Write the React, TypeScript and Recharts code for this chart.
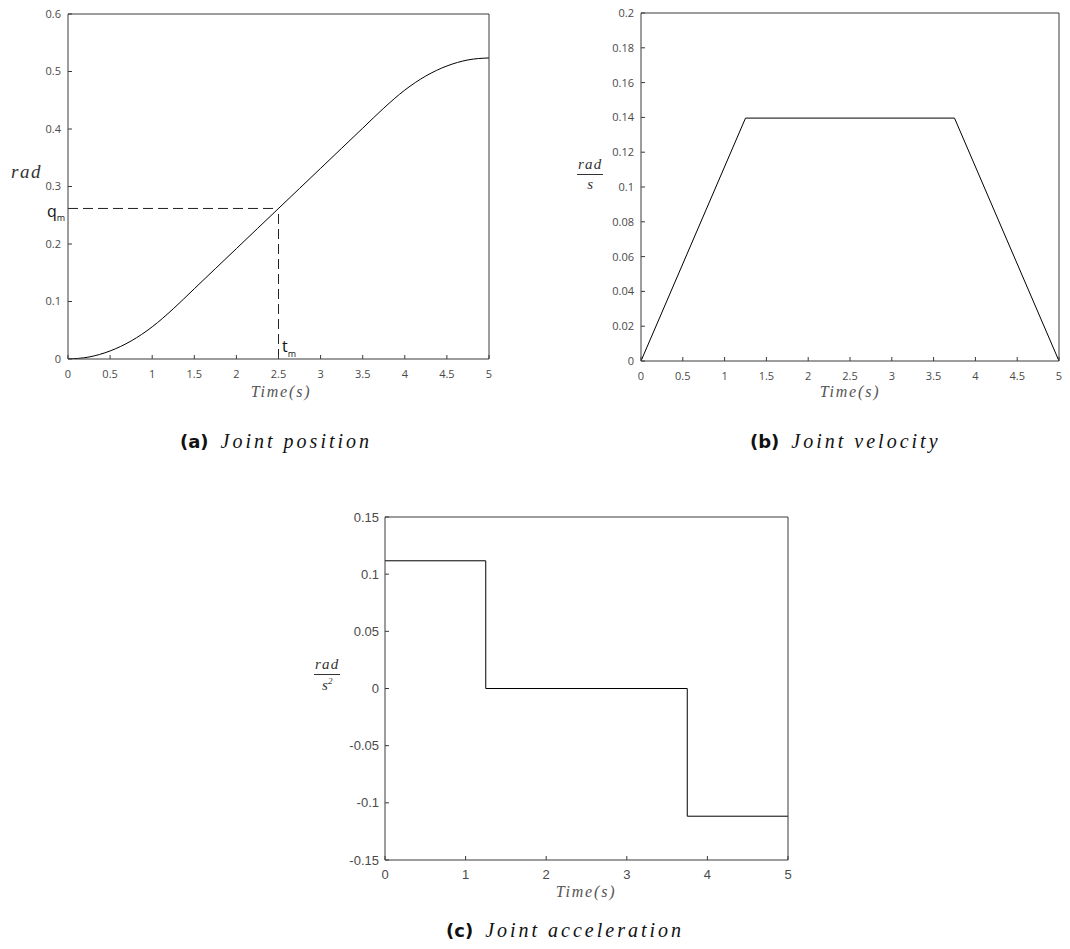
import React from 'react';
import { LineChart, Line, XAxis, YAxis, ReferenceLine } from 'recharts';

// ---- data ----
const posTime = [0, 0.25, 0.5, 0.75, 1, 1.25, 1.5, 1.75, 2, 2.25, 2.5, 2.75, 3, 3.25, 3.5, 3.75, 4, 4.25, 4.5, 4.75, 5];
const posRad = [0, 0.0035, 0.014, 0.0314, 0.0559, 0.0873, 0.1222, 0.1571, 0.192, 0.2269, 0.2618, 0.2967, 0.3316, 0.3665, 0.4014, 0.4363, 0.4677, 0.4922, 0.5096, 0.5201, 0.5236];
const velTime = [0, 1.25, 3.75, 5];
const velRadS = [0, 0.1396, 0.1396, 0];
const accTime = [0, 1.25, 1.25, 3.75, 3.75, 5];
const accRadS2 = [0.1117, 0.1117, 0, 0, -0.1117, -0.1117];
const tm = 2.5;
const qm = 0.2618;

const xTicksHalf = [0, 0.5, 1, 1.5, 2, 2.5, 3, 3.5, 4, 4.5, 5];
const xTicksUnit = [0, 1, 2, 3, 4, 5];
const posTicks = [0, 0.1, 0.2, 0.3, 0.4, 0.5, 0.6];
const velTicks = [0, 0.02, 0.04, 0.06, 0.08, 0.1, 0.12, 0.14, 0.16, 0.18, 0.2];
const accTicks = [-0.15, -0.1, -0.05, 0, 0.05, 0.1, 0.15];

const posData = posTime.map((t, i) => ({ t, v: posRad[i] }));
const velData = velTime.map((t, i) => ({ t, v: velRadS[i] }));
const accData = accTime.map((t, i) => ({ t, v: accRadS2[i] }));

const AXIS = '#3a3a3a';
const TICKTXT = '#4a4a4a';
const SERIF = '"Liberation Serif", "DejaVu Serif", serif';

type PanelProps = {
  data: { t: number; v: number }[];
  width: number;
  height: number;
  margin: { top: number; right: number; bottom: number; left: number };
  xTicks: number[];
  yTicks: number[];
  yDomain: [number, number];
  font: string;
  fontSize: number;
  xMargin: number;
  yMargin: number;
  curve: 'monotone' | 'linear';
  children?: React.ReactNode;
};

function Panel(p: PanelProps) {
  const tickStyle = { fill: TICKTXT, fontFamily: p.font, fontSize: p.fontSize };
  return (
    <LineChart width={p.width} height={p.height} data={p.data} margin={p.margin}>
      <XAxis
        dataKey="t"
        type="number"
        domain={[0, 5]}
        ticks={p.xTicks}
        interval={0}
        stroke={AXIS}
        tickSize={-4}
        tickMargin={p.xMargin}
        tick={tickStyle}
        height={30}
        allowDataOverflow
      />
      <XAxis
        xAxisId="top"
        orientation="top"
        mirror
        dataKey="t"
        type="number"
        domain={[0, 5]}
        ticks={p.xTicks}
        interval={0}
        stroke={AXIS}
        tickSize={4}
        tick={false}
        allowDataOverflow
      />
      <YAxis
        type="number"
        domain={p.yDomain}
        ticks={p.yTicks}
        interval={0}
        stroke={AXIS}
        tickSize={-4}
        tickMargin={p.yMargin}
        tick={tickStyle}
        width={60}
        allowDataOverflow
      />
      <YAxis
        yAxisId="right"
        orientation="right"
        mirror
        type="number"
        domain={p.yDomain}
        ticks={p.yTicks}
        interval={0}
        stroke={AXIS}
        tickSize={4}
        tick={false}
        allowDataOverflow
      />
      {p.children}
      <Line
        xAxisId="top"
        yAxisId="right"
        dataKey="v"
        type={p.curve}
        stroke="none"
        strokeWidth={0}
        dot={false}
        activeDot={false}
        isAnimationActive={false}
      />
      <Line
        dataKey="v"
        type={p.curve}
        stroke="#000"
        strokeWidth={1}
        dot={false}
        activeDot={false}
        isAnimationActive={false}
      />
    </LineChart>
  );
}

const abs = (left: number, top: number): React.CSSProperties => ({ position: 'absolute', left, top });

function Fraction({ num, den, size }: { num: React.ReactNode; den: React.ReactNode; size: number }) {
  return (
    <div style={{ display: 'inline-flex', flexDirection: 'column', alignItems: 'center', fontFamily: SERIF, fontStyle: 'italic', fontSize: size, color: '#333', lineHeight: 1 }}>
      <span style={{ padding: '0 1px 2px', borderBottom: '1px solid #333', letterSpacing: 1.2 }}>{num}</span>
      <span style={{ paddingTop: 2 }}>{den}</span>
    </div>
  );
}

function Caption({ tag, text }: { tag: string; text: string }) {
  return (
    <div style={{ whiteSpace: 'nowrap', lineHeight: 1, display: 'flex', alignItems: 'baseline' }}>
      <span style={{ fontFamily: '"DejaVu Sans", sans-serif', fontWeight: 700, fontSize: 18, color: '#111' }}>{tag}</span>
      <span style={{ fontFamily: SERIF, fontStyle: 'italic', fontSize: 20, color: '#111', marginLeft: 12, letterSpacing: 3 }}>{text}</span>
    </div>
  );
}

const timeLabel: React.CSSProperties = { fontFamily: SERIF, fontStyle: 'italic', fontSize: 16, color: '#555', letterSpacing: 1.8, whiteSpace: 'nowrap', transform: 'translate(-50%, -50%)' };
const subLabel: React.CSSProperties = { fontFamily: '"Open Sans", sans-serif', fontSize: 16, color: '#111', lineHeight: 1, whiteSpace: 'nowrap' };

export default function App() {
  return (
    <div style={{ position: 'absolute', left: 0, top: 0, width: 1070, height: 949, background: '#fff' }}>
      {/* (a) position */}
      <div style={abs(0, 0)}>
        <Panel
          data={posData}
          width={520}
          height={420}
          margin={{ top: 14, right: 31, bottom: 31, left: 8 }}
          xTicks={xTicksHalf}
          yTicks={posTicks}
          yDomain={[0, 0.6]}
          font='"Open Sans", sans-serif'
          fontSize={11}
          xMargin={15}
          yMargin={11}
          curve="monotone"
        >
          <ReferenceLine segment={[{ x: 0, y: qm }, { x: tm, y: qm }]} stroke="#222" strokeDasharray="10 5" />
          <ReferenceLine segment={[{ x: tm, y: 0 }, { x: tm, y: qm }]} stroke="#222" strokeDasharray="10 5" />
        </Panel>
      </div>
      <div style={{ ...abs(11, 161), fontFamily: SERIF, fontStyle: 'italic', fontSize: 19, color: '#333', letterSpacing: 1.6 }}>rad</div>
      <div style={{ ...abs(47, 203), ...subLabel }}>
        q<span style={{ fontSize: 9, verticalAlign: -4 }}>m</span>
      </div>
      <div style={{ ...abs(282, 338), ...subLabel }}>
        t<span style={{ fontSize: 9, verticalAlign: -5 }}>m</span>
      </div>
      <div style={{ ...abs(281, 392), ...timeLabel }}>Time(s)</div>
      <div style={abs(180, 431)}><Caption tag="(a)" text="Joint position" /></div>

      {/* (b) velocity */}
      <div style={abs(540, 0)}>
        <Panel
          data={velData}
          width={530}
          height={420}
          margin={{ top: 13, right: 11, bottom: 29, left: 41 }}
          xTicks={xTicksHalf}
          yTicks={velTicks}
          yDomain={[0, 0.2]}
          font='"Open Sans", sans-serif'
          fontSize={11}
          xMargin={15}
          yMargin={11}
          curve="linear"
        />
      </div>
      <div style={abs(577, 155)}><Fraction num="rad" den="s" size={15} /></div>
      <div style={{ ...abs(850, 392), ...timeLabel }}>Time(s)</div>
      <div style={abs(750, 431)}><Caption tag="(b)" text="Joint velocity" /></div>

      {/* (c) acceleration */}
      <div style={abs(300, 470)}>
        <Panel
          data={accData}
          width={520}
          height={440}
          margin={{ top: 47, right: 32, bottom: 20, left: 25 }}
          xTicks={xTicksUnit}
          yTicks={accTicks}
          yDomain={[-0.15, 0.15]}
          font='"Liberation Sans", Arial, sans-serif'
          fontSize={13}
          xMargin={14}
          yMargin={10}
          curve="linear"
        />
      </div>
      <div style={abs(314, 655)}>
        <Fraction num="rad" den={<span>s<sup style={{ fontSize: 9 }}>2</sup></span>} size={15} />
      </div>
      <div style={{ ...abs(586, 892), ...timeLabel }}>Time(s)</div>
      <div style={abs(446, 920)}><Caption tag="(c)" text="Joint acceleration" /></div>
    </div>
  );
}
